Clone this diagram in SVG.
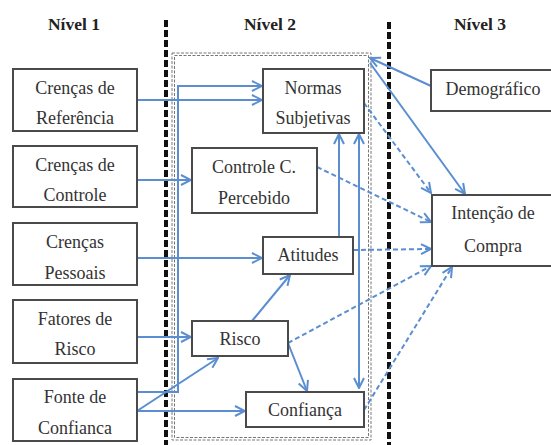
<svg xmlns="http://www.w3.org/2000/svg" width="551" height="445" viewBox="0 0 551 445">
<defs>
<marker id="ah" viewBox="0 0 12 12" refX="11" refY="6" markerWidth="12" markerHeight="12" markerUnits="userSpaceOnUse" orient="auto-start-reverse">
<path d="M1,1 L11,6 L1,11" fill="none" stroke="#5a8ed0" stroke-width="2"/>
</marker>
<style>
.box{fill:#fff;stroke:#4a4a4a;stroke-width:2}
.c{fill:none;stroke:#5a8ed0;stroke-width:2}
.d{fill:none;stroke:#5a8ed0;stroke-width:2;stroke-dasharray:5,3}
.div{stroke:#111;stroke-width:4;stroke-dasharray:7,3}
.ib{fill:none;stroke:#777;stroke-width:1;stroke-dasharray:3,1.5}
</style>
</defs>
<rect width="551" height="445" fill="#fff"/>
<g id="headings" font-family="Liberation Serif" font-size="17.5" font-weight="bold" fill="#222" text-anchor="middle">
<text x="74" y="30">Nível 1</text>
<text x="270" y="30">Nível 2</text>
<text x="480" y="30">Nível 3</text>
</g>
<g id="dividers">
<line class="div" x1="166" y1="20" x2="166" y2="445"/>
<line class="div" x1="389" y1="22" x2="389" y2="445"/>
</g>
<g id="level2-frame">
<rect class="ib" x="172" y="53" width="199" height="387"/>
<rect class="ib" x="174.5" y="55.5" width="194" height="382"/>
</g>
<g id="connectors">
<line class="c" x1="137" y1="100" x2="262" y2="100" marker-end="url(#ah)"/>
<polyline class="c" points="137,392 178,392 178,86 262,86" marker-end="url(#ah)"/>
<line class="c" x1="137" y1="180" x2="191" y2="180" marker-end="url(#ah)"/>
<line class="c" x1="137" y1="258" x2="262" y2="258" marker-end="url(#ah)"/>
<line class="c" x1="133" y1="337" x2="191" y2="337" marker-end="url(#ah)"/>
<line class="c" x1="137" y1="411" x2="218" y2="358" marker-end="url(#ah)"/>
<line class="c" x1="137" y1="411" x2="245" y2="411" marker-end="url(#ah)"/>
<line class="c" x1="252" y1="321" x2="290" y2="275" marker-end="url(#ah)"/>
<line class="c" x1="288" y1="343" x2="307" y2="391" marker-end="url(#ah)"/>
<line class="c" x1="339" y1="237" x2="339" y2="134" marker-end="url(#ah)"/>
<line class="c" x1="359" y1="388" x2="359" y2="134" marker-start="url(#ah)" marker-end="url(#ah)"/>
<line class="c" x1="431" y1="86" x2="370" y2="58" marker-end="url(#ah)"/>
<line class="c" x1="370" y1="63" x2="465" y2="194" marker-end="url(#ah)"/>
<line class="d" x1="364" y1="103" x2="431" y2="193" marker-end="url(#ah)"/>
<line class="d" x1="317" y1="167" x2="431" y2="222" marker-end="url(#ah)"/>
<line class="d" x1="353" y1="250" x2="431" y2="249" marker-end="url(#ah)"/>
<line class="d" x1="288" y1="343" x2="431" y2="266" marker-end="url(#ah)"/>
<line class="d" x1="364" y1="410" x2="452" y2="267" marker-end="url(#ah)"/>
</g>
<g id="nodes" font-family="Liberation Serif" font-size="18" fill="#333" text-anchor="middle">
<g id="n-crencas-referencia">
<rect class="box" x="13" y="69" width="124" height="62"/>
<text x="75" y="94">Crenças de</text>
<text x="75" y="124">Referência</text>
</g>
<g id="n-crencas-controle">
<rect class="box" x="13" y="146" width="124" height="61"/>
<text x="75" y="171">Crenças de</text>
<text x="75" y="201">Controle</text>
</g>
<g id="n-crencas-pessoais">
<rect class="box" x="13" y="223" width="124" height="62"/>
<text x="75" y="248">Crenças</text>
<text x="75" y="279">Pessoais</text>
</g>
<g id="n-fatores-risco">
<rect class="box" x="13" y="300" width="124" height="63"/>
<text x="75" y="325">Fatores de</text>
<text x="75" y="355">Risco</text>
</g>
<g id="n-fonte-confianca">
<rect class="box" x="13" y="379" width="124" height="62"/>
<text x="75" y="403">Fonte de</text>
<text x="75" y="434">Confianca</text>
</g>
<g id="n-normas">
<rect class="box" x="263" y="69" width="101" height="64"/>
<text x="313" y="94">Normas</text>
<text x="313" y="124">Subjetivas</text>
</g>
<g id="n-controle-percebido">
<rect class="box" x="192" y="148" width="125" height="65"/>
<text x="254" y="173">Controle C.</text>
<text x="254" y="204">Percebido</text>
</g>
<g id="n-atitudes">
<rect class="box" x="263" y="237" width="90" height="37"/>
<text x="308" y="261">Atitudes</text>
</g>
<g id="n-risco">
<rect class="box" x="192" y="321" width="96" height="35"/>
<text x="240" y="345">Risco</text>
</g>
<g id="n-confianca">
<rect class="box" x="246" y="392" width="118" height="35"/>
<text x="305" y="416">Confiança</text>
</g>
<g id="n-demografico">
<rect class="box" x="431" y="70" width="125" height="41"/>
<text x="493" y="95">Demográfico</text>
</g>
<g id="n-intencao">
<rect class="box" x="432" y="195" width="125" height="71"/>
<text x="493" y="219">Intenção de</text>
<text x="493" y="252">Compra</text>
</g>
</g>
</svg>
